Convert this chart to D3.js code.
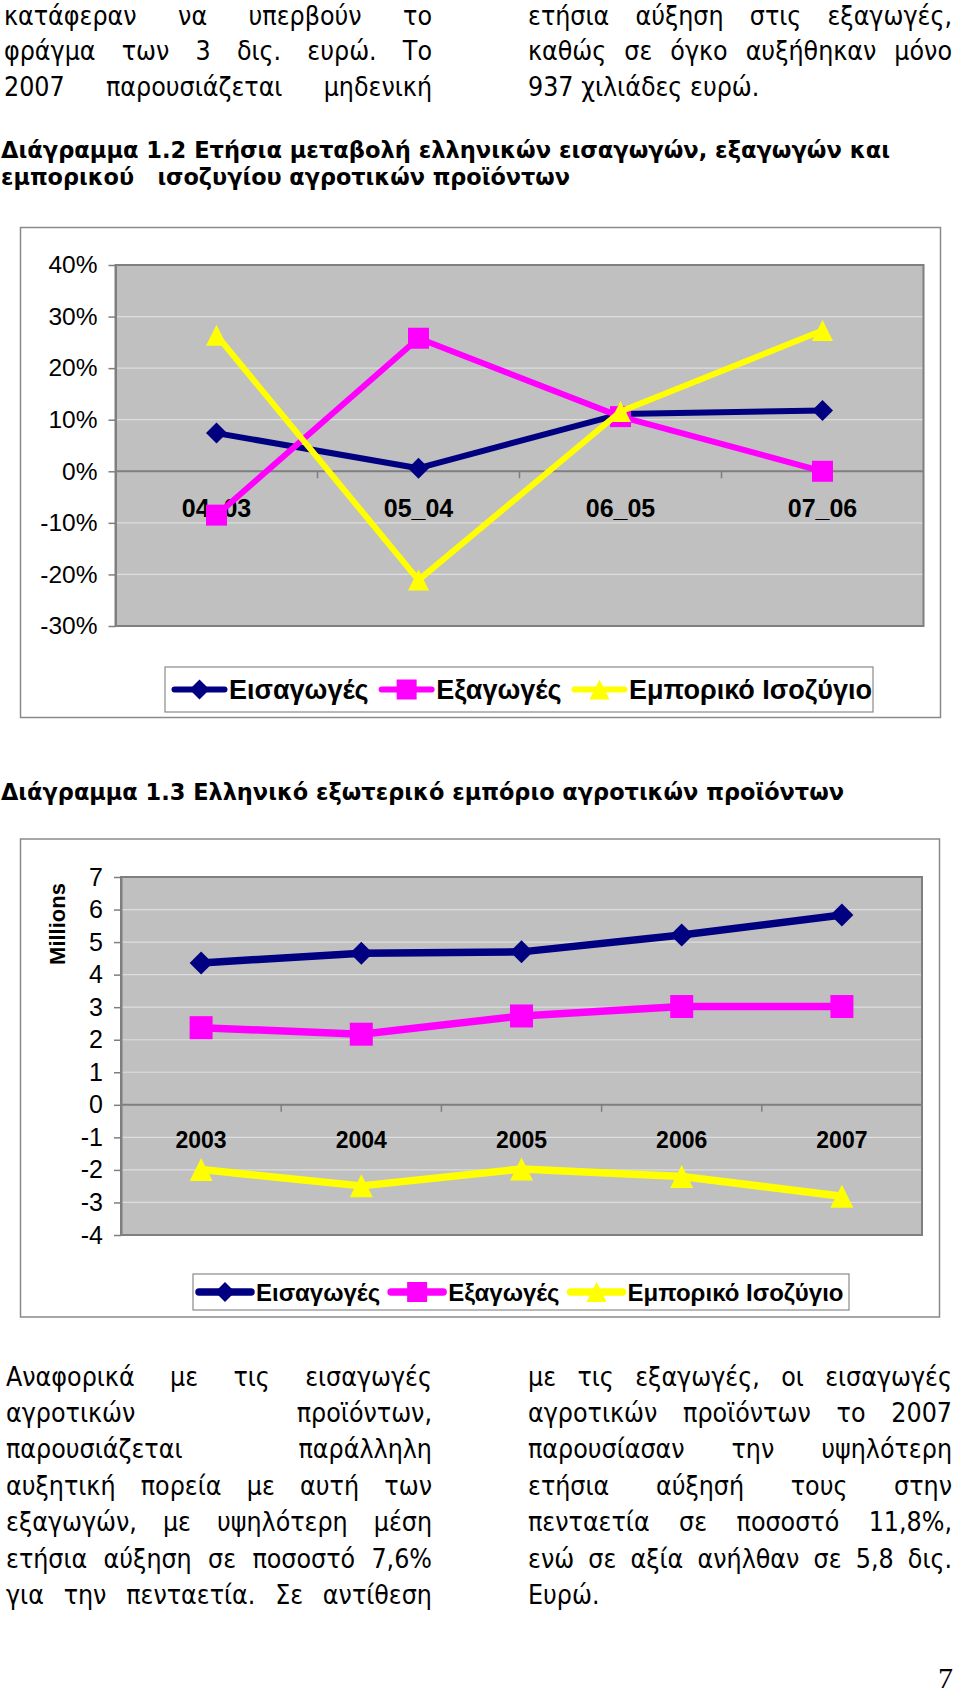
<!DOCTYPE html>
<html><head><meta charset="utf-8">
<script src="https://cdn.jsdelivr.net/npm/d3@7"></script>
<style>
html,body{margin:0;padding:0;background:#fff;}
svg{display:block;}
.body{font-family:"DejaVu Sans Condensed","DejaVu Sans",sans-serif;font-stretch:condensed;font-size:26.5px;fill:#000;}
.title{font-family:"DejaVu Sans Condensed","DejaVu Sans",sans-serif;font-stretch:condensed;font-weight:bold;font-size:23px;white-space:pre;fill:#000;}
.chart text{font-family:"Liberation Sans",Arial,sans-serif;fill:#000;}
</style></head><body>
<svg id="page" width="960" height="1693"></svg>
<script>
// ---------- DATA ----------
const seriesNames = ["Εισαγωγές", "Εξαγωγές", "Εμπορικό Ισοζύγιο"];
const seriesColors = ["#000080", "#FF00FF", "#FFFF00"];

// Chart 1.2: annual change (%)
const cats1 = ["04_03", "05_04", "06_05", "07_06"];
const imports1 = [7.4, 0.6, 11.1, 11.8];
const exports1 = [-8.5, 25.8, 10.6, 0.0];
const balance1 = [26.4, -21.1, 11.6, 27.3];
const yTicks1 = [-30, -20, -10, 0, 10, 20, 30, 40];

// Chart 1.3: trade (millions)
const cats2 = ["2003", "2004", "2005", "2006", "2007"];
const imports2 = [4.36, 4.66, 4.70, 5.22, 5.83];
const exports2 = [2.37, 2.17, 2.73, 3.02, 3.02];
const balance2 = [-1.99, -2.49, -1.97, -2.20, -2.81];
const yTicks2 = [-4, -3, -2, -1, 0, 1, 2, 3, 4, 5, 6, 7];

// Text
const topLeft = ["κατάφεραν να υπερβούν το", "φράγμα των 3 δις. ευρώ. Το", "2007 παρουσιάζεται μηδενική"];
const topRight = ["ετήσια αύξηση στις εξαγωγές,", "καθώς σε όγκο αυξήθηκαν μόνο", "937 χιλιάδες ευρώ."];
const title1 = ["Διάγραμμα 1.2 Ετήσια μεταβολή ελληνικών εισαγωγών, εξαγωγών και", "εμπορικού   ισοζυγίου αγροτικών προϊόντων"];
const title2 = "Διάγραμμα 1.3 Ελληνικό εξωτερικό εμπόριο αγροτικών προϊόντων";
const botLeft = ["Αναφορικά με τις εισαγωγές", "αγροτικών προϊόντων,", "παρουσιάζεται παράλληλη", "αυξητική πορεία με αυτή των", "εξαγωγών, με υψηλότερη μέση", "ετήσια αύξηση σε ποσοστό 7,6%", "για την πενταετία. Σε αντίθεση"];
const botRight = ["με τις εξαγωγές, οι εισαγωγές", "αγροτικών προϊόντων το 2007", "παρουσίασαν την υψηλότερη", "ετήσια αύξησή τους στην", "πενταετία σε ποσοστό 11,8%,", "ενώ σε αξία ανήλθαν σε 5,8 δις.", "Ευρώ."];
const pageNumber = "7";

// ---------- DRAW ----------
const svg = d3.select("#page");

function textBlock(lines, lastFree, x0, x1, y0, dy) {
  lines.forEach((ln, i) => {
    const y = y0 + i * dy;
    const words = ln.split(" ");
    const justify = !(lastFree && i === lines.length - 1) && words.length > 1;
    const g = svg.append("g");
    const nodes = words.map(w => g.append("text").attr("class", "body").attr("y", y)
      .attr("dominant-baseline", "central").text(w));
    let widths = nodes.map(n => n.node().getComputedTextLength());
    const total = d3.sum(widths);
    const minSpace = 6;
    if (justify && total + minSpace * (words.length - 1) > x1 - x0) {
      const k = (x1 - x0 - minSpace * (words.length - 1)) / total;
      widths = widths.map(w => w * k);
      nodes.forEach((n, j) => n.attr("textLength", widths[j]).attr("lengthAdjust", "spacingAndGlyphs"));
    }
    const space = justify ? (x1 - x0 - d3.sum(widths)) / (words.length - 1) : 26.5 * 0.29;
    let x = x0;
    nodes.forEach((n, k) => { n.attr("x", x); x += widths[k] + space; });
  });
}

textBlock(topLeft, false, 4, 432, 15, 35.6);
textBlock(topRight, true, 528, 952, 15, 35.6);
textBlock(botLeft, false, 6, 432, 1376, 36.4);
textBlock(botRight, true, 528, 952, 1376, 36.4);

function titleLine(txt, x, y, w) {
  svg.append("text").attr("class", "title").attr("x", x).attr("y", y)
    .attr("dominant-baseline", "central")
    .attr("textLength", w).attr("lengthAdjust", "spacingAndGlyphs").text(txt);
}
titleLine(title1[0], 1, 150, 889);
titleLine(title1[1], 1, 177, 569);
titleLine(title2, 1, 792, 843);

svg.append("text").attr("x", 938).attr("y", 1688)
  .style("font-family", "'Liberation Serif','DejaVu Serif',serif").style("font-size", "30px").text(pageNumber);

function markerPath(type, s) {
  const r = s / 2;
  if (type === 0) return `M0,${-r}L${r},0L0,${r}L${-r},0Z`;
  if (type === 1) return `M${-r},${-r}H${r}V${r}H${-r}Z`;
  return `M0,${-r}L${r},${r}L${-r},${r}Z`;
}

function drawChart(cfg) {
  const g = svg.append("g").attr("class", "chart");
  const B = cfg.box, P = cfg.plot;
  g.append("rect").attr("x", B.x).attr("y", B.y).attr("width", B.w).attr("height", B.h)
    .attr("fill", "#fff").attr("stroke", "#8a8a8a").attr("stroke-width", 1.5);

  const x = d3.scaleBand().domain(cfg.cats).range([P.x, P.x + P.w]);
  const y = d3.scaleLinear().domain(cfg.domain).range([P.y + P.h, P.y]);
  const cx = c => x(c) + x.bandwidth() / 2;

  g.append("rect").attr("x", P.x).attr("y", P.y).attr("width", P.w).attr("height", P.h).attr("fill", "#c0c0c0");
  g.selectAll(".grid").data(cfg.ticks.filter(v => v !== 0)).join("line")
    .attr("x1", P.x).attr("x2", P.x + P.w).attr("y1", d => y(d)).attr("y2", d => y(d))
    .attr("stroke", "#dedede").attr("stroke-width", 1.2);
  g.append("rect").attr("x", P.x).attr("y", P.y).attr("width", P.w).attr("height", P.h)
    .attr("fill", "none").attr("stroke", "#7f7f7f").attr("stroke-width", 2);

  const ax = g.append("g").attr("transform", `translate(${P.x},0)`)
    .call(d3.axisLeft(y).tickValues(cfg.ticks).tickSize(7).tickSizeOuter(0).tickPadding(11).tickFormat(cfg.fmt));
  ax.select(".domain").attr("stroke", "#7f7f7f").attr("stroke-width", 2);
  ax.selectAll(".tick line").attr("stroke", "#7f7f7f").attr("stroke-width", 1.5);
  ax.selectAll(".tick text").style("font-size", cfg.tickFont + "px").attr("fill", "#000");

  // zero axis
  g.append("line").attr("x1", P.x).attr("x2", P.x + P.w).attr("y1", y(0)).attr("y2", y(0))
    .attr("stroke", "#7f7f7f").attr("stroke-width", 2);
  g.selectAll(".xt").data(cfg.cats.slice(1)).join("line")
    .attr("x1", d => x(d)).attr("x2", d => x(d)).attr("y1", y(0)).attr("y2", y(0) + 7)
    .attr("stroke", "#7f7f7f").attr("stroke-width", 1.5);
  g.selectAll(".cl").data(cfg.cats).join("text")
    .attr("x", d => cx(d)).attr("y", cfg.catY).attr("text-anchor", "middle").attr("dominant-baseline", "central")
    .style("font-size", cfg.catFont + "px").style("font-weight", "bold").text(d => d);

  if (cfg.ylabel) {
    g.append("text").attr("transform", `translate(${cfg.ylabel.x},${cfg.ylabel.y}) rotate(-90)`)
      .attr("text-anchor", "middle").attr("dominant-baseline", "central")
      .style("font-size", cfg.ylabel.font + "px").style("font-weight", "bold").text(cfg.ylabel.text);
  }

  const line = d3.line().x((d, i) => cx(cfg.cats[i])).y(d => y(d));
  cfg.series.forEach((vals, si) => {
    g.append("path").attr("d", line(vals)).attr("fill", "none").attr("stroke", seriesColors[si])
      .attr("stroke-width", cfg.lineW).attr("stroke-linejoin", "round");
    g.selectAll(".m" + si).data(vals).join("path")
      .attr("transform", (d, i) => `translate(${cx(cfg.cats[i])},${y(d)})`)
      .attr("d", markerPath(si, cfg.marker)).attr("fill", seriesColors[si]);
  });

  // legend
  const L = cfg.legend;
  g.append("rect").attr("x", L.x).attr("y", L.y).attr("width", L.w).attr("height", L.h)
    .attr("fill", "#fff").attr("stroke", "#8a8a8a").attr("stroke-width", 1.2);
  const cy = L.y + L.h / 2;
  let lx = L.x + L.pad;
  seriesNames.forEach((name, si) => {
    g.append("line").attr("x1", lx).attr("x2", lx + L.sample).attr("y1", cy).attr("y2", cy)
      .attr("stroke", seriesColors[si]).attr("stroke-width", cfg.lineW).attr("stroke-linecap", "round");
    g.append("path").attr("transform", `translate(${lx + L.sample / 2},${cy})`)
      .attr("d", markerPath(si, L.marker)).attr("fill", seriesColors[si]);
    const t = g.append("text").attr("x", lx + L.sample + L.gap).attr("y", cy).attr("dominant-baseline", "central")
      .style("font-size", L.font + "px").style("font-weight", "bold").text(name);
    lx += L.sample + L.gap + t.node().getComputedTextLength() + L.itemGap;
  });
}

drawChart({
  box: { x: 20.5, y: 227.5, w: 920, h: 490 },
  plot: { x: 115.5, y: 265, w: 808, h: 361 },
  cats: cats1, domain: [-30, 40], ticks: yTicks1, fmt: d => d + "%",
  tickFont: 24.5, catFont: 25, catY: 508, lineW: 6, marker: 21,
  series: [imports1, exports1, balance1],
  legend: { x: 165, y: 667, w: 708, h: 45, font: 27, pad: 9.5, sample: 50, gap: 4.5, itemGap: 13, marker: 20 }
});

drawChart({
  box: { x: 20.5, y: 839, w: 919, h: 478 },
  plot: { x: 121, y: 877, w: 801, h: 358 },
  cats: cats2, domain: [-4, 7], ticks: yTicks2, fmt: d => String(d),
  tickFont: 25, catFont: 23, catY: 1140, lineW: 7.5, marker: 23,
  series: [imports2, exports2, balance2],
  ylabel: { x: 57, y: 924, font: 22, text: "Millions" },
  legend: { x: 193, y: 1274, w: 656, h: 36, font: 24, pad: 6, sample: 52, gap: 5, itemGap: 11, marker: 20 }
});
</script></body></html>
